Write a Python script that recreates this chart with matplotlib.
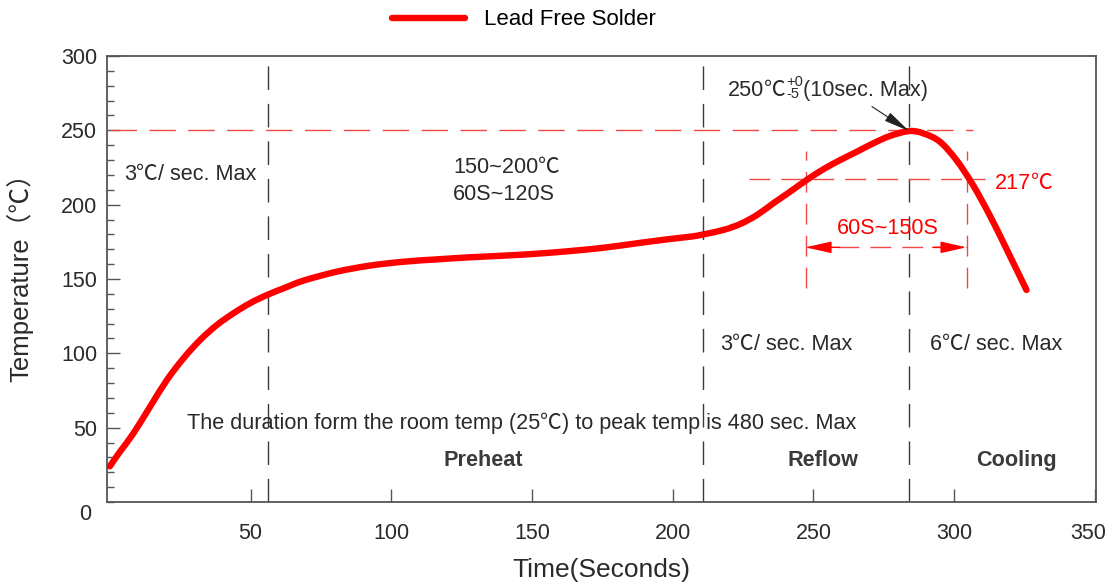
import re
import matplotlib
matplotlib.use("Agg")
import matplotlib.pyplot as plt
from matplotlib.ticker import MultipleLocator, FixedLocator
from matplotlib.path import Path
from matplotlib.patches import PathPatch
from matplotlib.lines import Line2D
import matplotlib.transforms as mtransforms

plt.rcParams['font.family'] = ['Liberation Sans', 'Noto Sans CJK SC']

# ---- data ----
time_s = [0, 3.6, 8.4, 14.3, 20.3, 26.2, 32.1, 38, 43.9, 49.8, 55.8, 61.7, 68.8,
          80.6, 92.4, 104.3, 116.1, 128, 139.8, 151.6, 163.5, 175.3, 187.2, 199,
          206.4, 210.9, 218, 224, 229.9, 235.8, 241.7, 247.6, 253.5, 259.5, 265.4,
          271.3, 277.2, 284, 289, 294.9, 300.8, 306.7, 312.6, 318.5, 325.7]
temp_c = [24, 33.8, 46.2, 64.1, 82.1, 96.7, 109, 119, 126.9, 133.7, 139.2, 143.7, 148.9,
          154.9, 159, 161.6, 163.2, 164.6, 165.7, 167, 168.8, 171, 174, 176.9,
          178.5, 180, 183, 187, 193, 201, 208.7, 216.6, 223.8, 230, 235.6,
          241.3, 246.2, 249.5, 248, 242.4, 230, 213.2, 193, 170.6, 142.6]

zone_bounds = [56.1, 210.9, 284.0]          # black dashed verticals
liquidus_bounds = [247.2, 304.4]            # red dashed verticals
peak_temp = 250
liquidus_temp = 217
x_ticks = [50, 100, 150, 200, 250, 300, 350]
y_ticks = [50, 100, 150, 200, 250, 300]
zone_names = ["Preheat", "Reflow", "Cooling"]
zone_name_x = [132.6, 253.4, 322.3]

fig = plt.figure(figsize=(11.10, 5.84), dpi=100)
ax = fig.add_axes([107/1110, 1-502/584, (1096-107)/1110, (502-56)/584])
ax.set_xlim(-1, 350.4)
ax.set_ylim(0, 300)

# smooth curve through the read points (Catmull-Rom rendered as cubic Bezier)
pts = list(zip(time_s, temp_c))
verts = [pts[0]]
codes = [Path.MOVETO]
n = len(pts)
for i in range(n - 1):
    p0 = pts[i - 1] if i > 0 else pts[i]
    p1 = pts[i]
    p2 = pts[i + 1]
    p3 = pts[i + 2] if i + 2 < n else pts[i + 1]
    c1 = (p1[0] + (p2[0] - p0[0]) / 6, p1[1] + (p2[1] - p0[1]) / 6)
    c2 = (p2[0] - (p3[0] - p1[0]) / 6, p2[1] - (p3[1] - p1[1]) / 6)
    verts += [c1, c2, p2]
    codes += [Path.CURVE4] * 3
curve = PathPatch(Path(verts, codes), fill=False, edgecolor='#ff0000', lw=4.6,
                  capstyle='round', joinstyle='round', zorder=5)
ax.add_patch(curve)

# black dashed zone lines
for xb in zone_bounds:
    ax.axvline(xb, color='#3a3a3a', lw=1.0, linestyle=(0, (17, 10)), zorder=2)

# red dashed reference lines
red_thin = '#f04848'
ax.plot([0, 306.7], [peak_temp, peak_temp], color=red_thin, lw=1.0,
        linestyle=(0, (19, 9)), zorder=2)
ax.plot([227.1, 311], [liquidus_temp, liquidus_temp], color=red_thin, lw=1.0,
        linestyle=(0, (15, 8)), zorder=2)
for xb in liquidus_bounds:
    ax.plot([xb, xb], [144, 236], color=red_thin, lw=1.0,
            linestyle=(0, (15, 8)), zorder=2)

# double arrow 60S~150S
arr_y = 171.3
ax.plot(liquidus_bounds, [arr_y, arr_y], color=red_thin, lw=1.0,
        linestyle=(0, (15, 8)), zorder=2)
for tip, back in [(liquidus_bounds[0], liquidus_bounds[0] + 12),
                  (liquidus_bounds[1], liquidus_bounds[1] - 12)]:
    ax.annotate('', xy=(tip, arr_y), xytext=(back, arr_y),
                arrowprops=dict(arrowstyle='-|>,head_length=0.8,head_width=0.18',
                                color='#ff0000', lw=1.0, shrinkA=0, shrinkB=0,
                                mutation_scale=20), zorder=3)

# peak arrow
ax.annotate('', xy=(284, 249.5), xytext=(270.8, 266),
            arrowprops=dict(arrowstyle='-|>,head_length=0.8,head_width=0.15',
                            color='#222222', lw=0.8, shrinkA=0, shrinkB=0,
                            mutation_scale=20), zorder=6)

fig.canvas.draw()
renderer = fig.canvas.get_renderer()
ident = mtransforms.IdentityTransform()
txt_c = '#2a2a2a'
fs = 15.6


def mixed_text(x, y, s, size=fs, color=txt_c, weight='normal'):
    """Left-aligned text at data (x, y-centre); the ℃ sign taken from the CJK font."""
    xd, yd = ax.transData.transform((x, y))
    yb = yd - 0.36 * size * 100 / 72
    last = None
    for part in re.split('(℃)', s):
        if not part:
            continue
        fam = 'Noto Sans CJK SC' if part == '℃' else 'Liberation Sans'
        t = fig.text(xd, yb, part, transform=ident, fontsize=size, color=color,
                     weight=weight, family=fam, ha='left', va='baseline')
        ext = t.get_window_extent(renderer)
        xd = ext.x1
        last = t
    return xd, yb


mixed_text(5.1, 222, "3℃/ sec. Max")
mixed_text(122, 226.7, "150~200℃")
mixed_text(122, 208.5, "60S~120S")
mixed_text(216.8, 107.6, "3℃/ sec. Max")
mixed_text(291.4, 107.6, "6℃/ sec. Max")
mixed_text(27.5, 54.5, "The duration form the room temp (25℃) to peak temp is 480 sec. Max")
mixed_text(314.5, 216, "217℃", color='#ff0000')
ax.text(276.5, 184, "60S~150S", color='#ff0000', fontsize=fs, ha='center', va='center')
for nm, xx in zip(zone_names, zone_name_x):
    ax.text(xx, 27.6, nm, fontsize=fs, color='#3a3a3a', weight='bold',
            ha='center', va='center')

# peak annotation with superscript / subscript
xe, yb = mixed_text(219.6, 278.5, "250℃")
fig.text(xe + 1, yb + 10, "+0", transform=ident, fontsize=10.5, color=txt_c,
         ha='left', va='baseline')
fig.text(xe + 1, yb - 2, "-5", transform=ident, fontsize=10.5, color=txt_c,
         ha='left', va='baseline')
fig.text(xe + 17, yb, "(10sec. Max)", transform=ident, fontsize=fs, color=txt_c,
         ha='left', va='baseline')

# axes styling
for sp in ax.spines.values():
    sp.set_color('#555555')
    sp.set_linewidth(1.3)
ax.xaxis.set_major_locator(FixedLocator(x_ticks))
ax.yaxis.set_major_locator(FixedLocator(y_ticks))
ax.yaxis.set_minor_locator(MultipleLocator(10))
ax.set_xticklabels([str(v) for v in x_ticks])
ax.set_yticklabels([str(v) for v in y_ticks])
ax.tick_params(axis='both', which='major', direction='in', length=9.5, width=1.0,
               color='#555555', labelsize=15.5, labelcolor='#2a2a2a')
ax.tick_params(axis='x', which='major', pad=15)
ax.tick_params(axis='y', which='major', pad=7)
ax.tick_params(axis='y', which='minor', direction='in', length=5.3, width=1.0,
               color='#555555')
last = ax.get_xticklabels()[-1]
last.set_transform(last.get_transform() +
                   mtransforms.ScaledTranslation(-7/100, 0, fig.dpi_scale_trans))
fig.text(85/1110, 1-515/584, "0", fontsize=15.5, color='#2a2a2a', ha='center', va='center')

ax.set_xlabel("Time(Seconds)", fontsize=19, color='#2a2a2a')
ax.xaxis.set_label_coords(0.5, -0.125)
ax.set_ylabel("Temperature（℃）", fontsize=18.5, color='#2a2a2a')
ax.yaxis.set_label_coords(-0.074, 0.518)

handle = Line2D([], [], color='#ff0000', lw=4.6, solid_capstyle='round')
fig.legend([handle], ['Lead Free Solder'], loc='center', bbox_to_anchor=(0.472, 0.966),
           frameon=False, fontsize=16, handlelength=3.3, handletextpad=0.85)

fig.savefig("out.png", dpi=100)
